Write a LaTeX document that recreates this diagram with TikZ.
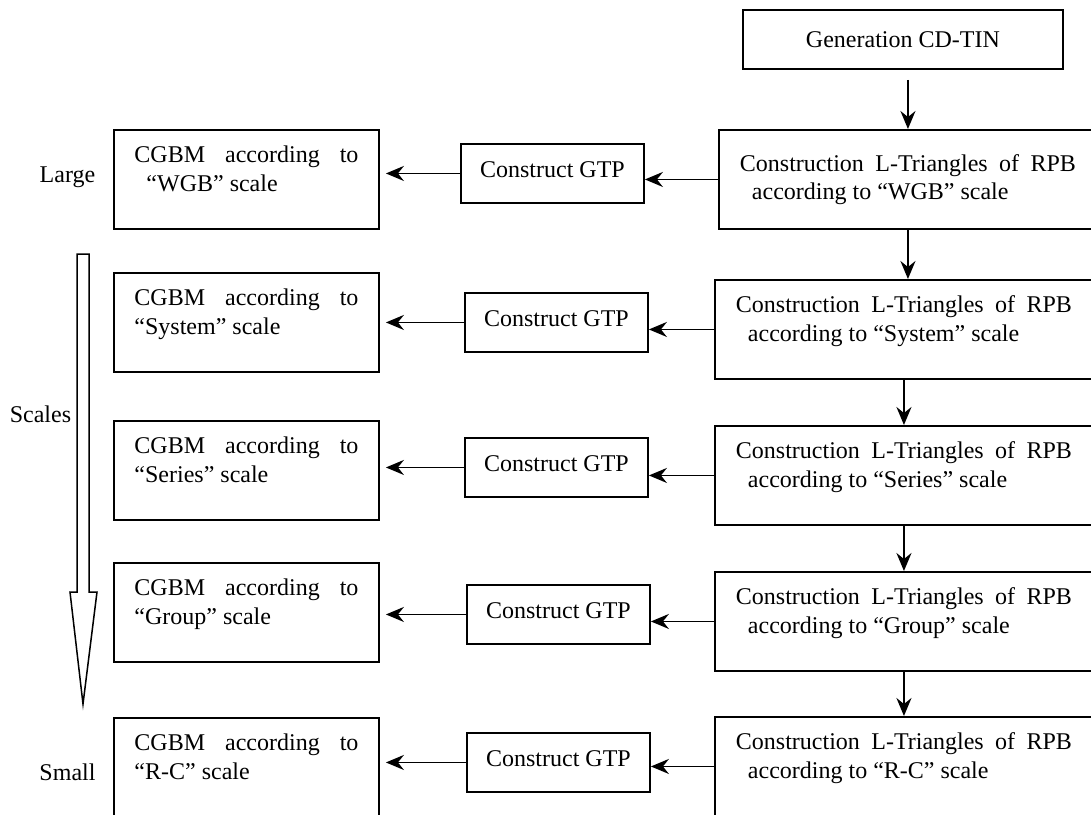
\documentclass[tikz,border=0pt]{standalone}
\usepackage{fontspec}
\setmainfont{Liberation Serif}
\usepackage{tikz}
\usetikzlibrary{arrows.meta,positioning}

\newcommand{\headstrut}{\rule{0pt}{17pt}}
\newcommand{\tailgap}{\rule[-21.5pt]{0pt}{21.5pt}}
\newcommand{\twoline}[2]{\headstrut#1\linebreak#2\tailgap}

\begin{document}
\begin{tikzpicture}[
    x=1pt, y=1pt,
    every node/.style={font=\fontsize{24}{28.5}\selectfont},
    box/.style={rectangle, draw, line width=1.9pt, inner xsep=4pt, inner ysep=4pt},
    cgbm/.style={box, anchor=north west, minimum width=265pt, minimum height=99pt, text width=224pt, align=justify},
    ltri/.style={box, anchor=north west, minimum width=378pt, minimum height=99pt, text width=336pt, align=justify},
    gtp/.style={box, anchor=north west, minimum width=183pt, minimum height=59pt, text height=16pt, text depth=8pt},
    tag/.style={anchor=base},
    edge/.style={-{Stealth[length=18pt, width=15pt, inset=6pt]}, line width=1.9pt}
]
    \useasboundingbox (0,0) rectangle (1091,-814);

    % scale labels and the hollow arrow
    \node[tag] (large) at (67.5,-182) {Large};
    \node[tag] (scales) at (40.5,-422) {Scales};
    \node[tag] (small) at (67.5,-780) {Small};
    \draw[line width=1.5pt] (77,-254) -- (89,-254) -- (89,-592) -- (97,-592) -- (83,-704) -- (70,-592) -- (77,-592) -- cycle;

    % right column
    \node[box, anchor=north west, minimum width=320pt, minimum height=59pt] (cdtin) at (742,-9) {Generation CD-TIN};
    \node[ltri] (r1) at (718,-129) {\headstrut Construction L-Triangles of RPB\linebreak\hspace*{0.5em}according to “WGB” scale};
    \node[ltri] (r2) at (714,-279) {\twoline{Construction L-Triangles of RPB}{\hspace*{0.5em}according to “System” scale}};
    \node[ltri] (r3) at (714,-425) {\twoline{Construction L-Triangles of RPB}{\hspace*{0.5em}according to “Series” scale}};
    \node[ltri] (r4) at (714,-571) {\twoline{Construction L-Triangles of RPB}{\hspace*{0.5em}according to “Group” scale}};
    \node[ltri] (r5) at (714,-716) {\twoline{Construction L-Triangles of RPB}{\hspace*{0.5em}according to “R-C” scale}};

    % middle column
    \node[gtp] (g1) at (460,-143) {Construct GTP};
    \node[gtp] (g2) at (464,-292) {Construct GTP};
    \node[gtp] (g3) at (464,-437) {Construct GTP};
    \node[gtp] (g4) at (466,-584) {Construct GTP};
    \node[gtp] (g5) at (466,-732) {Construct GTP};

    % left column
    \node[cgbm] (l1) at (113,-129) {\twoline{CGBM according to}{\hspace*{0.5em}“WGB” scale}};
    \node[cgbm] (l2) at (113,-272) {\twoline{CGBM according to}{“System” scale}};
    \node[cgbm] (l3) at (113,-420) {\twoline{CGBM according to}{“Series” scale}};
    \node[cgbm] (l4) at (113,-562) {\twoline{CGBM according to}{“Group” scale}};
    \node[cgbm] (l5) at (113,-717) {\twoline{CGBM according to}{“R-C” scale}};

    \draw[edge, shorten <=10pt] (cdtin.south -| r1.north) -- (r1.north);
    \draw[edge] (r1.south) -- (r1.south |- r2.north);
    \draw[edge] (r2.south) -- (r2.south |- r3.north);
    \draw[edge] (r3.south) -- (r3.south |- r4.north);
    \draw[edge] (r4.south) -- (r4.south |- r5.north);

    \draw[edge] (r1.west) -- (r1.west -| g1.east);
    \draw[edge] (r2.west) -- (r2.west -| g2.east);
    \draw[edge] (r3.west) -- (r3.west -| g3.east);
    \draw[edge] (r4.west) -- (r4.west -| g4.east);
    \draw[edge] (r5.west) -- (r5.west -| g5.east);

    \draw[edge, shorten >=6pt] (g1.west) -- (g1.west -| l1.east);
    \draw[edge, shorten >=6pt] (g2.west) -- (g2.west -| l2.east);
    \draw[edge, shorten >=6pt] (g3.west) -- (g3.west -| l3.east);
    \draw[edge, shorten >=6pt] (g4.west) -- (g4.west -| l4.east);
    \draw[edge, shorten >=6pt] (g5.west) -- (g5.west -| l5.east);
\end{tikzpicture}
\end{document}
